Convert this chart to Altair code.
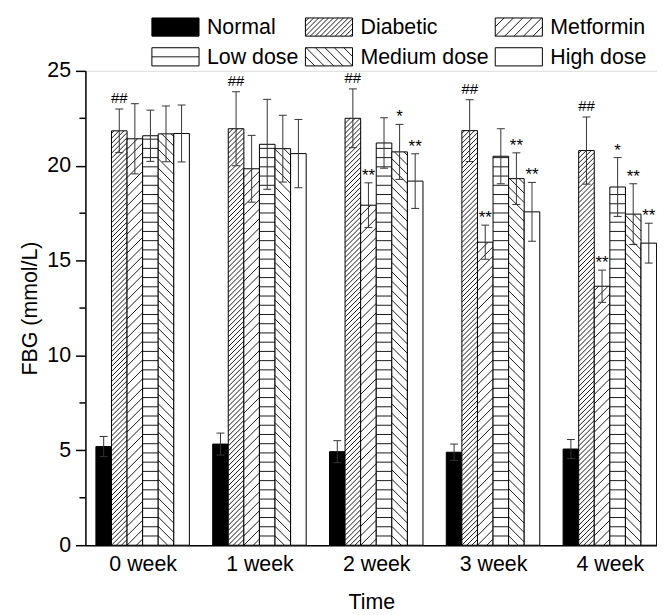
import json
import altair as alt
import pandas as pd

# ---------------- data ----------------
weeks = ["0 week", "1 week", "2 week", "3 week", "4 week"]
groups = ["Normal", "Diabetic", "Metformin", "Low dose", "Medium dose", "High dose"]

normal_mean = [5.20, 5.33, 4.93, 4.90, 5.07]
normal_sd = [0.53, 0.58, 0.58, 0.43, 0.50]
diabetic_mean = [21.84, 21.95, 22.50, 21.85, 20.80]
diabetic_sd = [1.15, 1.95, 1.55, 1.63, 1.77]
metformin_mean = [21.42, 19.84, 17.92, 15.97, 13.65]
metformin_sd = [1.85, 1.76, 1.18, 0.90, 0.85]
low_mean = [21.58, 21.13, 21.20, 20.50, 18.88]
low_sd = [1.35, 2.37, 1.33, 1.45, 1.55]
medium_mean = [21.68, 20.90, 20.73, 19.32, 17.45]
medium_sd = [1.47, 1.76, 1.45, 1.36, 1.60]
high_mean = [21.70, 20.64, 19.19, 17.57, 15.92]
high_sd = [1.50, 1.80, 1.44, 1.55, 1.05]

normal_sig = ["", "", "", "", ""]
diabetic_sig = ["##", "##", "##", "##", "##"]
metformin_sig = ["", "", "**", "**", "**"]
low_sig = ["", "", "", "", "*"]
medium_sig = ["", "", "*", "**", "**"]
high_sig = ["", "", "**", "**", "**"]

y_ticks = [0, 5, 10, 15, 20, 25]
y_minor_ticks = [2.5, 7.5, 12.5, 17.5, 22.5]

means = [normal_mean, diabetic_mean, metformin_mean, low_mean, medium_mean, high_mean]
sds = [normal_sd, diabetic_sd, metformin_sd, low_sd, medium_sd, high_sd]
sigs = [normal_sig, diabetic_sig, metformin_sig, low_sig, medium_sig, high_sig]

# ---------------- layout / style ----------------
W, H = 576, 478            # plot area in px
XS = 117.7                 # px per group unit
XMIN = -0.49
XMAX = XMIN + W / XS
YMAX = 25
YS = H / YMAX              # px per y unit
BAR_W = 15.7 / XS
CAP = 4.0 / XS
FONT = "Liberation Sans"
FS = 21.5

# fill, hatch kind, hatch spacing (px)
styles = {
    "Normal": ("#000000", None, 0),
    "Diabetic": ("#ffffff", "/", 5.0),
    "Metformin": ("#ffffff", "/", 9.5),
    "Low dose": ("#ffffff", "-", 9.3),
    "Medium dose": ("#ffffff", "\\", 9.5),
    "High dose": ("#ffffff", None, 0),
}

# legend layout (px relative to plot area origin)
LEG_COLS = [67.0, 221.7, 413.0]
LEG_ROWS = [-53.3, -23.3]
LEG_W, LEG_H = 47.5, 18.3


def hatch(x0, x1, y0, y1, kind, step):
    """Hatch segments inside rect (data units), computed in px space."""
    w = (x1 - x0) * XS
    h = (y1 - y0) * YS
    segs = []
    if kind == "-":
        k = 1
        while k * step < h - 1.0:
            yy = k * step
            segs.append((0, yy, w, yy))
            k += 1
    elif kind == "/":
        k = int(-w // step) - 1
        while k * step < h + step:
            b = k * step
            xa, xb = max(0.0, -b), min(w, h - b)
            if xb - xa > 0.3:
                segs.append((xa, xa + b, xb, xb + b))
            k += 1
    elif kind == "\\":
        k = 0
        while k * step < h + w + step:
            b = k * step
            xa, xb = max(0.0, b - h), min(w, b)
            if xb - xa > 0.3:
                segs.append((xa, b - xa, xb, b - xb))
            k += 1
    return [(x0 + a / XS, y0 + b / YS, x0 + c / XS, y0 + d / YS) for a, b, c, d in segs]


bar_rows, hatch_rows, err_rows, cap_rows, sig_rows = [], [], [], [], []
for gi, g in enumerate(groups):
    fill, kind, step = styles[g]
    for wi in range(len(weeks)):
        c = wi + (gi - 2.5) * BAR_W
        x0, x1 = c - BAR_W / 2, c + BAR_W / 2
        m, s = means[gi][wi], sds[gi][wi]
        bar_rows.append(dict(x0=x0, x1=x1, y0=0.0, y1=m, fill=fill))
        if kind:
            for a, b, cc, d in hatch(x0, x1, 0.0, m, kind, step):
                hatch_rows.append(dict(xa=a, ya=b, xb=cc, yb=d))
        err_rows.append(dict(xa=c, xb=c, ya=m - s, yb=m + s))
        cap_rows.append(dict(xa=c - CAP, xb=c + CAP, ya=m - s, yb=m - s))
        cap_rows.append(dict(xa=c - CAP, xb=c + CAP, ya=m + s, yb=m + s))
        if sigs[gi][wi]:
            sig_rows.append(dict(x=c, y=m + s, t=sigs[gi][wi]))

# legend
leg_text = []
for gi, g in enumerate(groups):
    fill, kind, step = styles[g]
    col, row = gi % 3, gi // 3
    px0 = LEG_COLS[col]
    py_top = LEG_ROWS[row]
    x0 = XMIN + px0 / XS
    x1 = XMIN + (px0 + LEG_W) / XS
    y1 = YMAX - py_top / YS
    y0 = YMAX - (py_top + LEG_H) / YS
    bar_rows.append(dict(x0=x0, x1=x1, y0=y0, y1=y1, fill=fill))
    if kind:
        lstep = step if kind != "-" else LEG_H / 2
        for a, b, cc, d in hatch(x0, x1, y0, y1, kind, lstep):
            hatch_rows.append(dict(xa=a, ya=b, xb=cc, yb=d))
    leg_text.append(dict(x=XMIN + (px0 + LEG_W + 8) / XS, y=(y0 + y1) / 2, t=g))

bars_df = pd.DataFrame(bar_rows)
hatch_df = pd.DataFrame(hatch_rows)
err_df = pd.DataFrame(err_rows + cap_rows)
sig_df = pd.DataFrame(sig_rows)
legt_df = pd.DataFrame(leg_text)
minor_df = pd.DataFrame({"v": y_minor_ticks})

xscale = alt.Scale(domain=[XMIN, XMAX], nice=False, zero=False)
yscale = alt.Scale(domain=[0, YMAX], nice=False, zero=False)

x_axis = alt.Axis(
    values=list(range(len(weeks))),
    labelExpr=json.dumps(weeks) + "[datum.value]",
    title="Time", ticks=False, grid=False, domainColor="black", domainWidth=1.5,
    labelFontSize=FS, labelPadding=8, labelColor="black", labelFont=FONT,
    titleFontSize=FS, titleFontWeight="normal", titleFont=FONT, titleColor="black",
    titlePadding=17, labelFlush=False, labelOverlap=False,
)
y_axis = alt.Axis(
    values=y_ticks, title="FBG (mmol/L)", grid=False, tickSize=10, tickWidth=1.5,
    tickColor="black", domainColor="black", domainWidth=1.5,
    labelFontSize=FS, labelPadding=5, labelColor="black", labelFont=FONT,
    titleFontSize=FS, titleFontWeight="normal", titleFont=FONT, titleColor="black",
    titlePadding=5,
)

bars = alt.Chart(bars_df).mark_rect(stroke="black", strokeWidth=1).encode(
    x=alt.X("x0:Q", scale=xscale, axis=x_axis),
    x2="x1:Q",
    y=alt.Y("y1:Q", scale=yscale, axis=y_axis),
    y2="y0:Q",
    fill=alt.Fill("fill:N", scale=None),
)

hatches = alt.Chart(hatch_df).mark_rule(color="black", strokeWidth=0.9).encode(
    x=alt.X("xa:Q", scale=xscale, axis=x_axis),
    x2="xb:Q",
    y=alt.Y("ya:Q", scale=yscale, axis=y_axis),
    y2="yb:Q",
)

errs = alt.Chart(err_df).mark_rule(color="#333333", strokeWidth=1).encode(
    x=alt.X("xa:Q", scale=xscale, axis=x_axis),
    x2="xb:Q",
    y=alt.Y("ya:Q", scale=yscale, axis=y_axis),
    y2="yb:Q",
)

hash_text = alt.Chart(sig_df).transform_filter(
    "datum.t == '##'"
).mark_text(
    font=FONT, fontSize=15, color="black", baseline="alphabetic", dy=-6
).encode(
    x=alt.X("x:Q", scale=xscale, axis=x_axis),
    y=alt.Y("y:Q", scale=yscale, axis=y_axis),
    text="t:N",
)

star_text = alt.Chart(sig_df).transform_filter(
    "datum.t != '##'"
).mark_text(
    font=FONT, fontSize=17, color="black", baseline="alphabetic", dy=-2
).encode(
    x=alt.X("x:Q", scale=xscale, axis=x_axis),
    y=alt.Y("y:Q", scale=yscale, axis=y_axis),
    text="t:N",
)

leg_labels = alt.Chart(legt_df).mark_text(
    font=FONT, fontSize=FS, color="black", align="left", baseline="middle", dy=1
).encode(
    x=alt.X("x:Q", scale=xscale, axis=x_axis),
    y=alt.Y("y:Q", scale=yscale, axis=y_axis),
    text="t:N",
)

minor = alt.Chart(minor_df).mark_rule(color="black", strokeWidth=1.5).encode(
    y=alt.Y("v:Q", scale=yscale, axis=y_axis),
    x=alt.value(-6),
    x2=alt.value(0),
)

chart = alt.layer(bars, hatches, errs, hash_text, star_text, leg_labels, minor).properties(
    width=W, height=H,
    autosize=alt.AutoSizeParams(type="none"),
    padding={"left": 78, "top": 61, "right": 0, "bottom": 72},
).configure_view(stroke=None).configure(font=FONT, background="white")

chart.save("out.html", embed_options={"renderer": "svg", "actions": False})
